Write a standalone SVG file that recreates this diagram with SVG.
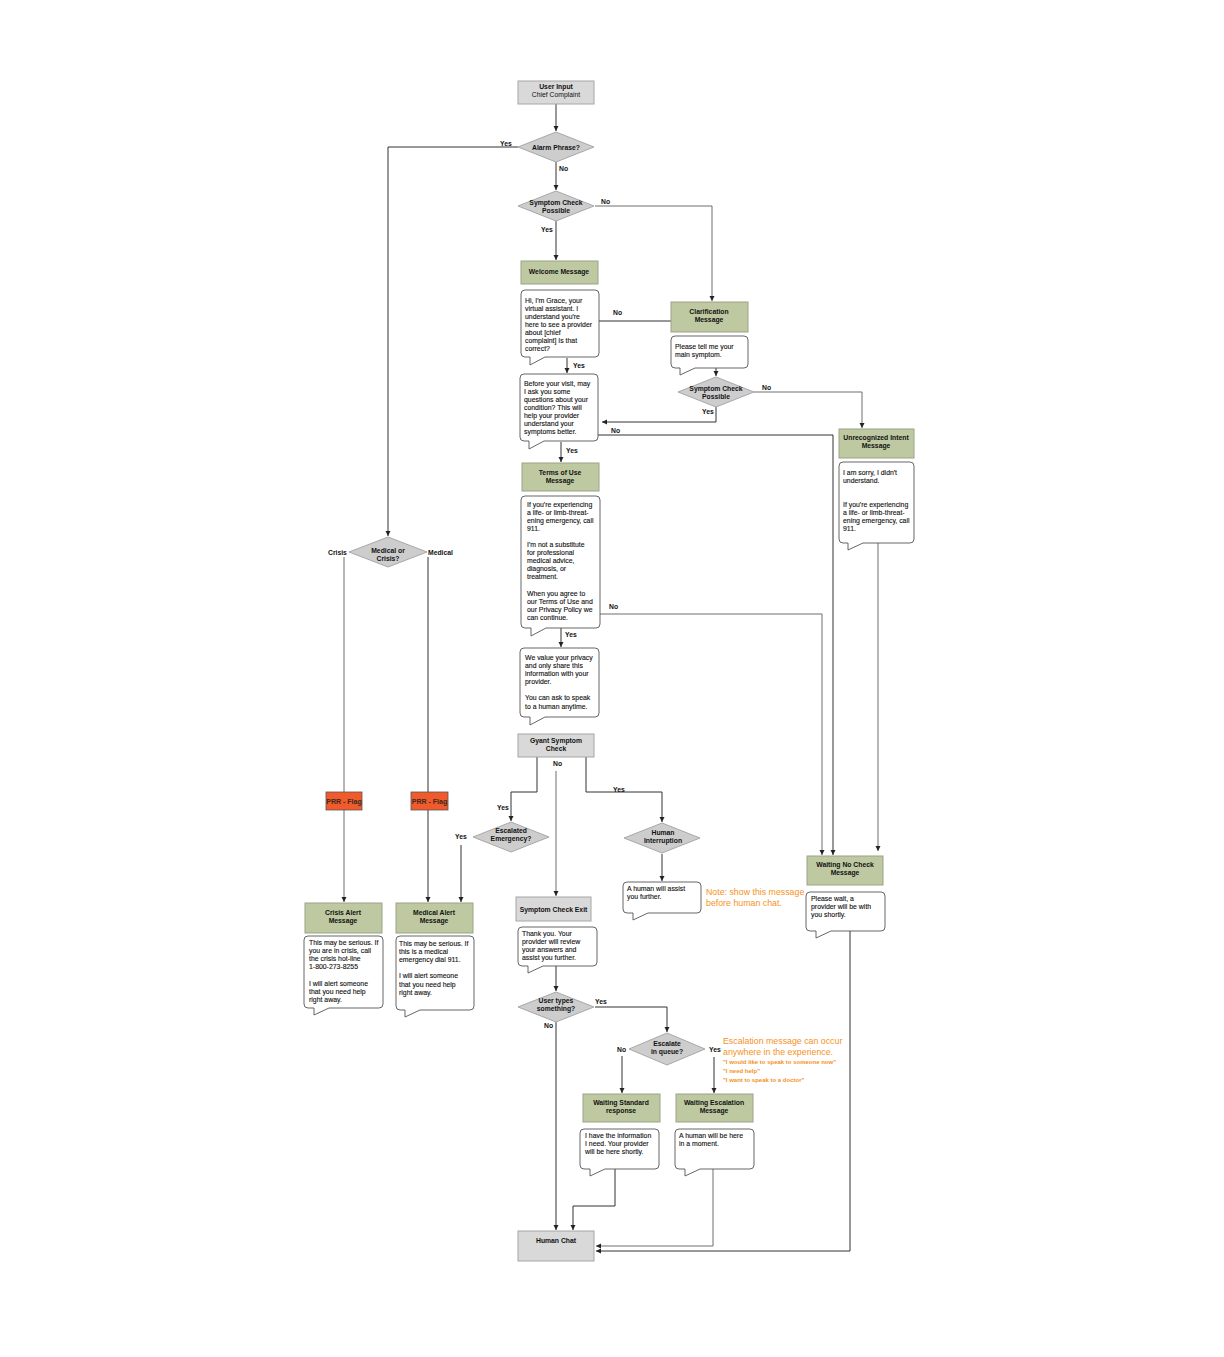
<svg xmlns="http://www.w3.org/2000/svg" width="1224" height="1357" viewBox="0 0 1224 1357">
<defs>
<marker id="arr" markerUnits="userSpaceOnUse" markerWidth="6" markerHeight="6" refX="5" refY="3" orient="auto">
<path d="M0,0.5 L5,3 L0,5.5 z" fill="#222"/>
</marker>
<style>
text{font-family:"Liberation Sans",Arial,sans-serif;fill:#111}
.lbl{font-size:6.8px;font-weight:bold;text-anchor:middle}
.el{font-size:6.8px;font-weight:bold}
.bt{font-size:6.9px;stroke:#111;stroke-width:0.12}
.gray{fill:#d9d9d9;stroke:#a6a6a6;stroke-width:1}
.green{fill:#bec9a1;stroke:#99a487;stroke-width:1}
.dia{fill:#cdcdcd;stroke:#a8a8a8;stroke-width:1}
.bub{fill:#fff;stroke:#555;stroke-width:0.9}
.flag{fill:#f15a2b;stroke:#555;stroke-width:0.8}
.ft{font-size:7px;font-weight:bold;fill:#3a2a20;text-anchor:middle}
.c{fill:none;stroke:#333;stroke-width:1}
.cg{fill:none;stroke:#6f6f6f;stroke-width:1}
.note{font-size:8.8px;fill:#f5921e}
.nq{font-size:6px;font-weight:bold;fill:#f5921e}
</style>
</defs>
<rect width="1224" height="1357" fill="#fff"/>

<g id="connectors">
<path class="c" d="M556,104 V131" marker-end="url(#arr)"/>
<path class="c" d="M518,147 H388 V536" marker-end="url(#arr)"/>
<path class="c" d="M556,162 V190" marker-end="url(#arr)"/>
<path class="cg" d="M595,206 H712 V301" marker-end="url(#arr)"/>
<path class="c" d="M556,221 V260" marker-end="url(#arr)"/>
<path class="c" d="M599,321 H671"/>
<path class="c" d="M567,358 V373" marker-end="url(#arr)"/>
<path class="c" d="M716,368 V376" marker-end="url(#arr)"/>
<path class="cg" d="M754,392 H862 V428" marker-end="url(#arr)"/>
<path class="c" d="M716,407 V422 H602" marker-end="url(#arr)"/>
<path class="c" d="M598,435 H833 V855" marker-end="url(#arr)"/>
<path class="c" d="M561,442 V462" marker-end="url(#arr)"/>
<path class="cg" d="M600,614 H822 V855" marker-end="url(#arr)"/>
<path class="c" d="M561,628 V647" marker-end="url(#arr)"/>
<path class="cg" d="M878,543 V851" marker-end="url(#arr)"/>
<path class="c" d="M537,757 V792 H511 V821" marker-end="url(#arr)"/>
<path class="cg" d="M556,771 V896" marker-end="url(#arr)"/>
<path class="c" d="M586,757 V792 H662 V822" marker-end="url(#arr)"/>
<path class="c" d="M461,845 V902" marker-end="url(#arr)"/>
<path class="c" d="M662,854 V881" marker-end="url(#arr)"/>
<path class="cg" d="M344,557 V792"/>
<path class="cg" d="M344,810 V902" marker-end="url(#arr)"/>
<path class="c" d="M428,557 V792"/>
<path class="c" d="M428,810 V902" marker-end="url(#arr)"/>
<path class="c" d="M556,966 V991" marker-end="url(#arr)"/>
<path class="c" d="M595,1007 H667 V1032" marker-end="url(#arr)"/>
<path class="c" d="M556,1022 V1230" marker-end="url(#arr)"/>
<path class="c" d="M622,1056 V1093" marker-end="url(#arr)"/>
<path class="c" d="M714,1057 V1093" marker-end="url(#arr)"/>
<path class="c" d="M615,1169 V1206 H573 V1230" marker-end="url(#arr)"/>
<path class="cg" d="M713,1169 V1246 H596" marker-end="url(#arr)"/>
<path class="c" d="M850,931 V1251 H596" marker-end="url(#arr)"/>
</g>

<g id="edge-labels">
<text class="el" x="500" y="146">Yes</text>
<text class="el" x="559" y="171">No</text>
<text class="el" x="601" y="204">No</text>
<text class="el" x="541" y="232">Yes</text>
<text class="el" x="613" y="315">No</text>
<text class="el" x="573" y="368">Yes</text>
<text class="el" x="762" y="390">No</text>
<text class="el" x="702" y="414">Yes</text>
<text class="el" x="611" y="433">No</text>
<text class="el" x="566" y="453">Yes</text>
<text class="el" x="609" y="609">No</text>
<text class="el" x="565" y="637">Yes</text>
<text class="el" x="553" y="766">No</text>
<text class="el" x="497" y="810">Yes</text>
<text class="el" x="613" y="792">Yes</text>
<text class="el" x="455" y="839">Yes</text>
<text class="el" x="328" y="555">Crisis</text>
<text class="el" x="428" y="555">Medical</text>
<text class="el" x="595" y="1004">Yes</text>
<text class="el" x="544" y="1028">No</text>
<text class="el" x="617" y="1052">No</text>
<text class="el" x="709" y="1052">Yes</text>
</g>

<g id="user-input"><rect class="gray" x="518" y="81" width="76" height="23"/>
<text class="lbl" x="556" y="89">User Input</text><text class="lbl" x="556" y="97" style="font-weight:normal">Chief Complaint</text></g>

<g id="alarm-phrase"><polygon class="dia" points="518,147 556,132 594,147 556,162"/>
<text class="lbl" x="556" y="149.5">Alarm Phrase?</text></g>

<g id="symptom-check-1"><polygon class="dia" points="518,206 556,191 594,206 556,221"/>
<text class="lbl" x="556" y="204.5">Symptom Check</text><text class="lbl" x="556" y="212.5">Possible</text></g>

<g id="welcome"><rect class="green" x="521" y="261" width="77" height="23"/>
<text class="lbl" x="559" y="274">Welcome Message</text></g>

<g id="bubble-grace"><path class="bub" d="M525,290 H595 Q599,290 599,294 V353 Q599,357 595,357 H545 L530,365 V357 H525 Q521,357 521,353 V294 Q521,290 525,290 Z"/>
<text class="bt" x="525" y="302.5">Hi, I'm Grace, your<tspan x="525" dy="8.1">virtual assistant. I</tspan><tspan x="525" dy="8.1">understand you're</tspan><tspan x="525" dy="8.1">here to see a provider</tspan><tspan x="525" dy="8.1">about [chief</tspan><tspan x="525" dy="8.1">complaint]  Is that</tspan><tspan x="525" dy="8.1">correct?</tspan></text></g>

<g id="clarification"><rect class="green" x="671" y="302" width="77" height="30"/>
<text class="lbl" x="709" y="313.5">Clarification</text><text class="lbl" x="709" y="321.5">Message</text></g>

<g id="bubble-clar"><path class="bub" d="M675,336 H744 Q748,336 748,340 V364 Q748,368 744,368 H695 L680,375 V368 H675 Q671,368 671,364 V340 Q671,336 675,336 Z"/>
<text class="bt" x="675" y="348.5">Please tell me your<tspan x="675" dy="8.1">main symptom.</tspan></text></g>

<g id="symptom-check-2"><polygon class="dia" points="678,392 716,377 754,392 716,407"/>
<text class="lbl" x="716" y="390.5">Symptom Check</text><text class="lbl" x="716" y="398.5">Possible</text></g>

<g id="bubble-before"><path class="bub" d="M524,374 H594 Q598,374 598,378 V437 Q598,441 594,441 H544 L529,449 V441 H524 Q520,441 520,437 V378 Q520,374 524,374 Z"/>
<text class="bt" x="524" y="385.5">Before your visit, may<tspan x="524" dy="8.1">I ask you some</tspan><tspan x="524" dy="8.1">questions about your</tspan><tspan x="524" dy="8.1">condition? This will</tspan><tspan x="524" dy="8.1">help your provider</tspan><tspan x="524" dy="8.1">understand your</tspan><tspan x="524" dy="8.1">symptoms better.</tspan></text></g>

<g id="unrecognized"><rect class="green" x="839" y="429" width="75" height="29"/>
<text class="lbl" x="876" y="439.5">Unrecognized Intent</text><text class="lbl" x="876" y="447.5">Message</text></g>

<g id="bubble-unrec"><path class="bub" d="M843,462 H910 Q914,462 914,466 V539 Q914,543 910,543 H863 L848,550 V543 H843 Q839,543 839,539 V466 Q839,462 843,462 Z"/>
<text class="bt" x="843" y="474.5">I am sorry, I didn't<tspan x="843" dy="8.1">understand.</tspan><tspan x="843" dy="24.2">If you're experiencing</tspan><tspan x="843" dy="8.1">a life- or limb-threat-</tspan><tspan x="843" dy="8.1">ening emergency, call</tspan><tspan x="843" dy="8.1">911.</tspan></text></g>

<g id="terms"><rect class="green" x="522" y="463" width="77" height="28"/>
<text class="lbl" x="560" y="474.5">Terms of Use</text><text class="lbl" x="560" y="482.5">Message</text></g>

<g id="bubble-terms"><path class="bub" d="M525,496 H596 Q600,496 600,500 V624 Q600,628 596,628 H546 L531,636 V628 H525 Q521,628 521,624 V500 Q521,496 525,496 Z"/>
<text class="bt" x="527" y="506.5">If you're experiencing<tspan x="527" dy="8.1">a life- or limb-threat-</tspan><tspan x="527" dy="8.1">ening emergency, call</tspan><tspan x="527" dy="8.1">911.</tspan><tspan x="527" dy="16.2">I'm not a substitute</tspan><tspan x="527" dy="8.1">for professional</tspan><tspan x="527" dy="8.1">medical advice,</tspan><tspan x="527" dy="8.1">diagnosis, or</tspan><tspan x="527" dy="8.1">treatment.</tspan><tspan x="527" dy="16.2">When you agree to</tspan><tspan x="527" dy="8.1">our Terms of Use and</tspan><tspan x="527" dy="8.1">our Privacy Policy we</tspan><tspan x="527" dy="8.1">can continue.</tspan></text></g>

<g id="bubble-privacy"><path class="bub" d="M524,648 H595 Q599,648 599,652 V713 Q599,717 595,717 H545 L530,725 V717 H524 Q520,717 520,713 V652 Q520,648 524,648 Z"/>
<text class="bt" x="525" y="659.5">We value your privacy<tspan x="525" dy="8.1">and only share this</tspan><tspan x="525" dy="8.1">information with your</tspan><tspan x="525" dy="8.1">provider.</tspan><tspan x="525" dy="16.6">You can ask to speak</tspan><tspan x="525" dy="8.1">to a human anytime.</tspan></text></g>

<g id="medical-or-crisis"><polygon class="dia" points="349,552 388,537 427,552 388,567"/>
<text class="lbl" x="388" y="552.5">Medical or</text><text class="lbl" x="388" y="560.5">Crisis?</text></g>

<g id="gyant"><rect class="gray" x="518" y="734" width="76" height="23"/>
<text class="lbl" x="556" y="742.5">Gyant Symptom</text><text class="lbl" x="556" y="750.5">Check</text></g>

<g id="prr-crisis"><rect class="flag" x="326" y="792" width="36" height="18"/>
<text class="ft" x="344" y="803.5">PRR - Flag</text></g>

<g id="prr-medical"><rect class="flag" x="411" y="792" width="37" height="18"/>
<text class="ft" x="429.5" y="803.5">PRR - Flag</text></g>

<g id="escalated-emergency"><polygon class="dia" points="473,837 511,822 549,837 511,852"/>
<text class="lbl" x="511" y="832.5">Escalated</text><text class="lbl" x="511" y="840.5">Emergency?</text></g>

<g id="human-interruption"><polygon class="dia" points="624,838 662,823 700,838 662,853"/>
<text class="lbl" x="663" y="834.5">Human</text><text class="lbl" x="663" y="842.5">Interruption</text></g>

<g id="bubble-human-assist"><path class="bub" d="M627,882 H697 Q701,882 701,886 V909 Q701,913 697,913 H648 L633,920 V913 H627 Q623,913 623,909 V886 Q623,882 627,882 Z"/>
<text class="bt" x="627" y="890.5">A human will assist<tspan x="627" dy="8.1">you further.</tspan></text></g>

<g id="note-human"><text class="note" x="706" y="895">Note: show this message</text><text class="note" x="706" y="906">before human chat.</text></g>

<g id="waiting-no-check"><rect class="green" x="807" y="856" width="76" height="29"/>
<text class="lbl" x="845" y="866.5">Waiting No Check</text><text class="lbl" x="845" y="874.5">Message</text></g>

<g id="bubble-wait"><path class="bub" d="M810,892 H881 Q885,892 885,896 V927 Q885,931 881,931 H831 L816,938 V931 H810 Q806,931 806,927 V896 Q806,892 810,892 Z"/>
<text class="bt" x="811" y="900.5">Please wait, a<tspan x="811" dy="8.1">provider will be with</tspan><tspan x="811" dy="8.1">you shortly.</tspan></text></g>

<g id="crisis-alert"><rect class="green" x="305" y="903" width="77" height="30"/>
<text class="lbl" x="343" y="914.5">Crisis Alert</text><text class="lbl" x="343" y="922.5">Message</text></g>

<g id="bubble-crisis"><path class="bub" d="M308,936 H379 Q383,936 383,940 V1004 Q383,1008 379,1008 H329 L314,1015 V1008 H308 Q304,1008 304,1004 V940 Q304,936 308,936 Z"/>
<text class="bt" x="309" y="944.5">This may be serious. If<tspan x="309" dy="8.2">you are in crisis,  call</tspan><tspan x="309" dy="8.2">the crisis hot-line</tspan><tspan x="309" dy="8.2">1-800-273-8255</tspan><tspan x="309" dy="16.4">I will alert someone</tspan><tspan x="309" dy="8.2">that you need help</tspan><tspan x="309" dy="8.2">right away.</tspan></text></g>

<g id="medical-alert"><rect class="green" x="396" y="903" width="77" height="30"/>
<text class="lbl" x="434" y="914.5">Medical Alert</text><text class="lbl" x="434" y="922.5">Message</text></g>

<g id="bubble-medical"><path class="bub" d="M400,936 H470 Q474,936 474,940 V1006 Q474,1010 470,1010 H420 L405,1017 V1010 H400 Q396,1010 396,1006 V940 Q396,936 400,936 Z"/>
<text class="bt" x="399" y="945.5">This may be serious. If<tspan x="399" dy="8.2">this is a medical</tspan><tspan x="399" dy="8.2">emergency dial 911.</tspan><tspan x="399" dy="16.4">I will alert someone</tspan><tspan x="399" dy="8.2">that you need help</tspan><tspan x="399" dy="8.2">right away.</tspan></text></g>

<g id="symptom-check-exit"><rect class="gray" x="516" y="897" width="75" height="24"/>
<text class="lbl" x="553.5" y="911.5">Symptom Check Exit</text></g>

<g id="bubble-thanks"><path class="bub" d="M522,927 H593 Q597,927 597,931 V962 Q597,966 593,966 H543 L528,973 V966 H522 Q518,966 518,962 V931 Q518,927 522,927 Z"/>
<text class="bt" x="522" y="935.5">Thank you.  Your<tspan x="522" dy="8.3">provider will review</tspan><tspan x="522" dy="8.3">your answers and</tspan><tspan x="522" dy="8.3">assist you further.</tspan></text></g>

<g id="user-types"><polygon class="dia" points="518,1007 556,992 594,1007 556,1022"/>
<text class="lbl" x="556" y="1002.5">User types</text><text class="lbl" x="556" y="1010.5">something?</text></g>

<g id="escalate-queue"><polygon class="dia" points="629,1049 667,1033 705,1049 667,1065"/>
<text class="lbl" x="667" y="1045.5">Escalate</text><text class="lbl" x="667" y="1053.5">in queue?</text></g>

<g id="note-escalation"><text class="note" x="723" y="1044">Escalation message can occur</text><text class="note" x="723" y="1055">anywhere in the experience.</text>
<text class="nq" x="723" y="1064">"I would like to speak to someone now"</text><text class="nq" x="723" y="1073">"I need help"</text><text class="nq" x="723" y="1082">"I want to speak to a doctor"</text></g>

<g id="waiting-standard"><rect class="green" x="583" y="1094" width="77" height="28"/>
<text class="lbl" x="621" y="1104.5">Waiting Standard</text><text class="lbl" x="621" y="1112.5">response</text></g>

<g id="waiting-escalation"><rect class="green" x="676" y="1094" width="77" height="28"/>
<text class="lbl" x="714" y="1104.5">Waiting Escalation</text><text class="lbl" x="714" y="1112.5">Message</text></g>

<g id="bubble-standard"><path class="bub" d="M584,1129 H655 Q659,1129 659,1133 V1165 Q659,1169 655,1169 H605 L590,1176 V1169 H584 Q580,1169 580,1165 V1133 Q580,1129 584,1129 Z"/>
<text class="bt" x="585" y="1137.5">I have the information<tspan x="585" dy="8.4">I need. Your provider</tspan><tspan x="585" dy="8.4">will be here shortly.</tspan></text></g>

<g id="bubble-escalation"><path class="bub" d="M679,1129 H750 Q754,1129 754,1133 V1165 Q754,1169 750,1169 H700 L685,1176 V1169 H679 Q675,1169 675,1165 V1133 Q675,1129 679,1129 Z"/>
<text class="bt" x="679" y="1137.5">A human will be here<tspan x="679" dy="8.4">in a moment.</tspan></text></g>

<g id="human-chat"><rect class="gray" x="518" y="1231" width="76" height="30"/>
<text class="lbl" x="556" y="1242.5">Human Chat</text></g>
</svg>
